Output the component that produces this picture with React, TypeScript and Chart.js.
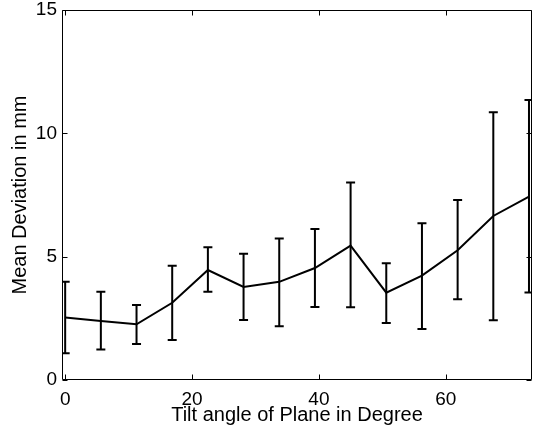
import React, { useEffect, useRef } from "react";
import { Chart, registerables } from "chart.js";

Chart.register(...registerables);

// Tilt angle of plane (degrees)
const angles = [0, 5.625, 11.25, 16.875, 22.5, 28.125, 33.75, 39.375, 45, 50.625, 56.25, 61.875, 67.5, 73.125];
// Mean deviation (mm)
const means = [2.53, 2.39, 2.26, 3.13, 4.46, 3.77, 3.98, 4.54, 5.45, 3.54, 4.23, 5.26, 6.65, 7.43];
// Error bar upper / lower ends (mm)
const upper = [3.98, 3.58, 3.04, 4.63, 5.38, 5.12, 5.74, 6.12, 8.01, 4.73, 6.35, 7.3, 10.85, 11.35];
const lower = [1.08, 1.24, 1.46, 1.62, 3.58, 2.43, 2.18, 2.96, 2.95, 2.31, 2.07, 3.27, 2.42, 3.55];

const xTicks = [0, 20, 40, 60];
const yTicks = [0, 5, 10, 15];

const FONT = "'Liberation Sans', Arial, Helvetica, sans-serif";

const frameAndErrorBars = {
  id: "frameAndErrorBars",
  afterDatasetsDraw(chart: any) {
    const { ctx, chartArea } = chart;
    const xs = chart.scales.x;
    const ys = chart.scales.y;
    ctx.save();
    // error bars
    ctx.beginPath();
    ctx.rect(chartArea.left, chartArea.top, chartArea.right - chartArea.left, chartArea.bottom - chartArea.top);
    ctx.clip();
    ctx.strokeStyle = "#000";
    ctx.lineWidth = 2;
    const cap = 4.5;
    for (let i = 0; i < angles.length; i++) {
      const px = xs.getPixelForValue(angles[i]);
      const yt = ys.getPixelForValue(upper[i]);
      const yb = ys.getPixelForValue(lower[i]);
      ctx.beginPath();
      ctx.moveTo(px, yt);
      ctx.lineTo(px, yb);
      ctx.moveTo(px - cap, yt);
      ctx.lineTo(px + cap, yt);
      ctx.moveTo(px - cap, yb);
      ctx.lineTo(px + cap, yb);
      ctx.stroke();
    }
    ctx.restore();

    // frame and inward ticks
    ctx.save();
    ctx.strokeStyle = "#000";
    ctx.lineWidth = 1;
    const l = Math.round(chartArea.left) + 0.5;
    const r = Math.round(chartArea.right) - 0.5;
    const t = Math.round(chartArea.top) + 0.5;
    const b = Math.round(chartArea.bottom) - 0.5;
    ctx.beginPath();
    ctx.rect(l, t, r - l, b - t);
    ctx.stroke();
    const tl = 5;
    ctx.beginPath();
    xs.ticks.forEach((tk: any) => {
      const px = Math.round(xs.getPixelForValue(tk.value)) + 0.5;
      ctx.moveTo(px, b);
      ctx.lineTo(px, b - tl);
      ctx.moveTo(px, t);
      ctx.lineTo(px, t + tl);
    });
    ys.ticks.forEach((tk: any) => {
      const py = Math.round(ys.getPixelForValue(tk.value)) + 0.5;
      ctx.moveTo(l, py);
      ctx.lineTo(l + tl, py);
      ctx.moveTo(r, py);
      ctx.lineTo(r - tl, py);
    });
    ctx.stroke();
    ctx.restore();
  },
};

export default function App() {
  const ref = useRef<HTMLCanvasElement>(null);
  useEffect(() => {
    if (!ref.current) return;
    const chart = new Chart(ref.current, {
      type: "line",
      data: {
        datasets: [
          {
            data: angles.map((a, i) => ({ x: a, y: means[i] })),
            borderColor: "#000",
            borderWidth: 2,
            pointRadius: 0,
            tension: 0,
            fill: false,
          },
        ],
      },
      options: {
        animation: false,
        responsive: false,
        devicePixelRatio: 1,
        layout: { padding: { left: 0, right: 1, top: 10, bottom: 0 } },
        plugins: { legend: { display: false }, tooltip: { enabled: false } },
        scales: {
          x: {
            type: "linear",
            min: -0.5,
            max: 73.6,
            afterBuildTicks: (s: any) => {
              s.ticks = xTicks.map((v) => ({ value: v }));
            },
            afterFit: (s: any) => {
              s.height = 51;
              s.paddingLeft = 0;
              s.paddingRight = 0;
            },
            grid: { display: false, drawTicks: false },
            border: { display: false },
            ticks: {
              color: "#000",
              padding: 8,
              maxRotation: 0,
              font: { family: FONT, size: 19 },
            },
            title: {
              display: true,
              text: "Tilt angle of Plane in Degree",
              color: "#000",
              font: { family: FONT, size: 20 },
              padding: { top: 0, bottom: 4 },
            },
          },
          y: {
            type: "linear",
            min: 0,
            max: 15,
            afterBuildTicks: (s: any) => {
              s.ticks = yTicks.map((v) => ({ value: v }));
            },
            afterFit: (s: any) => {
              s.width = 62;
              s.paddingTop = 0;
              s.paddingBottom = 0;
            },
            grid: { display: false, drawTicks: false },
            border: { display: false },
            ticks: {
              color: "#000",
              padding: 5,
              font: { family: FONT, size: 19 },
            },
            title: {
              display: true,
              text: "Mean Deviation in mm",
              color: "#000",
              font: { family: FONT, size: 20 },
              padding: { top: 8, bottom: 0 },
            },
          },
        },
      },
      plugins: [frameAndErrorBars],
    });
    return () => chart.destroy();
  }, []);
  return (
    <div style={{ position: "absolute", left: 0, top: 0, width: 533, height: 431, background: "#fff" }}>
      <canvas ref={ref} width={533} height={431} />
    </div>
  );
}
